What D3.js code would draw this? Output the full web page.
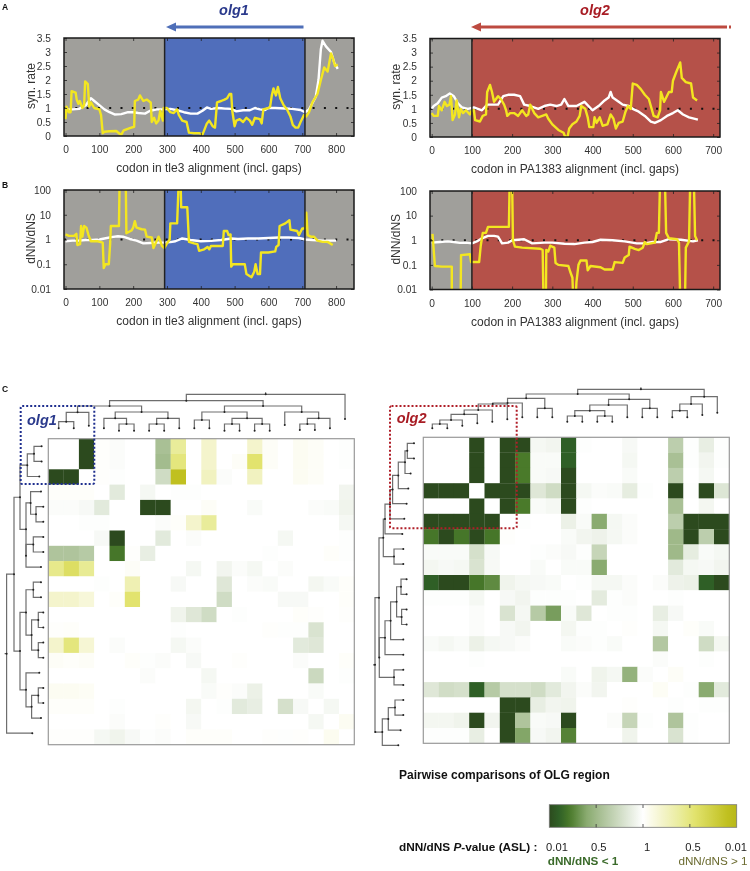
<!DOCTYPE html>
<html><head><meta charset="utf-8">
<script src="https://cdn.jsdelivr.net/npm/d3@7/dist/d3.min.js"></script>
<style>html,body{margin:0;background:#fff}svg{display:block;filter:blur(.35px)}text{font-family:"Liberation Sans",Arial,sans-serif}</style>
</head><body><svg id="c" width="750" height="871"></svg>
<script>
const ticksSyn=[0,0.5,1,1.5,2,2.5,3,3.5];
const ticksRatio=[0.01,0.1,1,10,100];
const ticksTle=[0,100,200,300,400,500,600,700,800];
const ticksPA=[0,100,200,300,400,500,600,700];
const a1Yellow=[[0,.6],[3,1.05],[10,.85],[15,.85],[18,1.6],[30,1.55],[33,1.3],[38,1.15],[42,1.25],[50,1],[55,1.1],[58,1.95],[66,1.85],[70,1.05],[75,1.2],[85,1],[100,.95],[105,.75],[110,.1],[115,.15],[130,.17],[150,.18],[160,.08],[165,.05],[172,.2],[190,.28],[203,.33],[205,1.25],[215,1.3],[220,1.45],[230,1.25],[240,1.3],[252,1.2],[255,.5],[262,.65],[268,.45],[275,.55],[280,.9],[288,.55],[290,1],[300,1],[310,.85],[320,.82],[330,.95],[335,.75],[345,.55],[358,.5],[365,.12],[380,.1],[395,.1],[405,.05],[410,.2],[418,.45],[425,.55],[435,.35],[442,.3],[448,1.2],[460,1.25],[470,1.3],[478,1.35],[485,1.5],[490,1.5],[493,.9],[500,.35],[505,.55],[515,.6],[525,.5],[535,.65],[545,.55],[552,.4],[560,.65],[575,.6],[580,.45],[585,.95],[600,1],[605,1.05],[610,1.45],[615,1.7],[622,1.45],[628,1.75],[635,1.35],[645,1.1],[655,.95],[665,.7],[672,.4],[680,.3],[688,.3],[695,.5],[705,.75],[712,.7],[720,.85],[730,1.2],[745,1.5],[755,2],[765,2.45],[775,2.3],[785,2.95],[790,2.8],[797,2.5],[805,2.55]];
const a1White=[[0,.95],[20,.95],[40,.97],[60,1.1],[75,1.35],[85,1.25],[100,1.1],[115,.95],[130,.85],[145,.77],[165,.78],[185,.85],[200,.85],[215,.82],[235,.8],[250,.9],[270,.95],[290,.95],[310,.97],[330,.92],[350,.85],[370,.8],[390,.8],[405,.9],[418,1.02],[430,.97],[450,1],[470,.98],[490,.97],[505,.88],[525,.92],[545,.92],[560,1],[575,.95],[590,.93],[600,1],[620,1],[650,.98],[670,.97],[695,.93],[708,.85],[720,.95],[740,1.4],[748,2],[755,3.1],[760,3.4],[770,3.2],[785,3],[795,2.6],[805,2.4]];
const a2Yellow=[[0,.85],[5,.75],[15,.75],[18,1.1],[25,.95],[32,1.25],[38,1.1],[44,1.15],[48,1.45],[52,.6],[58,.8],[62,1.3],[68,.7],[72,1],[78,.85],[85,.95],[95,.8],[100,.95],[105,.95],[108,.6],[120,.55],[127,.75],[135,.8],[138,1.6],[145,1.85],[150,1.6],[155,1.25],[165,1.45],[172,1.35],[180,1.15],[185,.95],[188,.75],[195,.85],[205,.85],[215,.75],[225,.95],[235,.75],[240,.8],[245,1.15],[255,.85],[265,.7],[285,.8],[290,.65],[300,.45],[315,.25],[328,.15],[332,0],[338,.02],[342,.3],[350,.45],[360,.55],[368,.75],[372,1.1],[382,1],[388,.7],[392,.35],[402,.35],[405,.7],[410,.5],[418,.7],[425,.4],[437,.45],[445,.8],[452,.65],[458,.3],[465,.5],[475,.55],[482,.9],[488,1.1],[495,1],[500,1.9],[510,1.85],[520,1.7],[530,1.5],[540,1.35],[547,1],[552,.75],[562,.7],[568,.95],[570,1.6],[578,1.25],[590,1.6],[597,1.6],[600,2],[608,2.3],[618,2.65],[622,2.1],[632,1.95],[645,1.9],[650,1.4],[660,1.3]];
const a2White=[[0,1],[5,1.1],[15,1.2],[25,1.4],[35,1.45],[45,1.55],[55,1.45],[65,1.2],[75,1.05],[90,1],[105,1.05],[125,.95],[138,1.15],[150,1.15],[165,1.15],[178,1.45],[190,1.5],[205,1.5],[220,1.45],[230,1.15],[245,1.1],[265,1],[280,1.1],[295,1.15],[310,1.1],[322,1.15],[330,1.35],[340,1.1],[360,1.1],[380,1.25],[400,.95],[415,1.1],[430,1.3],[440,1.4],[445,1.6],[450,1.4],[465,1.25],[475,1.15],[490,1.1],[500,1],[515,.9],[530,.75],[545,.55],[555,.5],[570,.6],[585,.75],[600,.85],[612,.95],[625,.8],[640,.7],[662,.62]];
const b1Yellow=[[0,1.6],[10,1.4],[25,1.4],[32,1.7],[35,.6],[43,.65],[46,3.5],[50,1.3],[55,3.5],[62,3],[68,1.5],[75,.85],[95,.85],[110,.75],[113,.07],[118,.1],[128,.1],[132,.7],[134,3.5],[158,3.5],[160,300],[178,300],[180,1.8],[195,2.3],[200,3],[205,5.5],[210,3],[225,2.6],[235,2.5],[240,1.3],[255,1.2],[260,.45],[268,.8],[275,1.3],[280,.9],[285,.55],[292,.45],[300,.7],[308,1],[310,4.5],[330,4.5],[335,300],[340,300],[342,20],[360,20],[365,.8],[380,.7],[390,.65],[395,.35],[410,.4],[420,.5],[425,.4],[430,.55],[465,.55],[468,2.2],[478,2.2],[482,1.5],[488,1.6],[490,.08],[495,.1],[530,.1],[535,.04],[550,.03],[558,.05],[562,.1],[568,.04],[575,.04],[578,.3],[600,.3],[620,.33],[623,.5],[630,.6],[633,3.5],[650,4.5],[662,6],[665,2.5],[685,2.2],[690,1.5],[700,2.8],[708,2.8],[712,12],[716,1.5],[725,1.3],[735,1.3],[745,.9],[760,.8],[775,.8],[790,.6]];
const b1White=[[0,.85],[20,.9],[40,.9],[60,.95],[80,.95],[100,1],[115,1.1],[135,1.25],[155,1.35],[170,1.3],[190,1.05],[210,.9],[230,.7],[250,.72],[270,.75],[290,.75],[310,.78],[325,.85],[345,1.1],[370,.95],[400,.85],[430,.88],[460,.95],[490,1.1],[510,1.05],[540,1.1],[570,1.1],[600,1.15],[630,1.2],[660,1.2],[690,1.15],[710,1],[730,.95],[760,.9],[800,.9]];
const b2Yellow=[[2,1.8],[5,.4],[8,.09],[25,.085],[50,.085],[50,.004],[72,.004],[73,.25],[95,.27],[98,.13],[118,.13],[122,.6],[127,2],[135,2],[140,3.5],[165,3.5],[192,3.5],[194,300],[200,300],[202,1],[207,.55],[225,.5],[270,.45],[276,.4],[278,.004],[284,.004],[285,.4],[290,.35],[295,.6],[305,.5],[308,.12],[315,.1],[340,.09],[345,.05],[350,.03],[352,.004],[358,.004],[360,.02],[365,.1],[370,.15],[385,.15],[388,.06],[395,.09],[420,.08],[430,.065],[450,.065],[455,.13],[475,.12],[480,.2],[490,.25],[492,.55],[505,.45],[515,.4],[525,.5],[530,.85],[535,.7],[545,.75],[555,.8],[560,2],[565,2],[568,300],[580,300],[583,2],[590,1.2],[610,1.1],[615,.8],[618,.004],[630,.004],[632,.5],[640,.9],[643,300],[652,300],[655,1.5],[660,1]];
const b2White=[[0,.8],[20,.85],[40,.9],[55,.85],[70,.78],[85,.8],[100,.75],[115,.95],[125,1.2],[140,1.5],[155,1.5],[165,1.4],[175,.75],[190,.8],[200,1],[215,1.05],[230,1.1],[250,.75],[280,.8],[300,.8],[330,.72],[355,.7],[380,.8],[400,.85],[420,1.05],[450,1],[480,.9],[510,.75],[530,.75],[550,.85],[570,.85],[590,1.1],[620,1.05],[650,.9],[662,1]];
const heatLeft=[
[0,0,-1,.01,-.02,0,0,-.45,.4,0,.2,0,0,.2,.03,0,.05,.03,0,-.01],
[0,0,-1,.01,-.02,0,0,-.48,.5,0,.2,0,.03,.55,.03,0,.05,.03,0,-.01],
[-1,-1,0,.01,-.01,0,0,-.25,.9,0,.25,-.02,0,.25,0,0,.05,.03,0,0],
[.02,.02,.02,0,-.15,0,-.05,0,-.01,-.01,0,0,0,0,0,0,0,0,0,-.07],
[-.02,-.02,-.04,-.15,0,0,-1,-1,0,0,.03,0,0,-.03,0,0,0,-.02,-.03,-.08],
[0,0,-.01,-.01,0,0,0,-.02,.02,.2,.4,0,0,0,0,0,0,0,0,-.05],
[0,0,0,-.04,-1,0,0,-.15,0,-.02,0,0,0,0,0,-.05,0,0,0,-.01],
[-.42,-.42,-.38,0,-.8,.01,-.12,0,0,0,0,0,0,0,-.01,0,0,0,.02,-.01],
[.45,.6,.42,0,0,.03,0,0,0,-.05,0,-.07,-.02,-.05,0,-.02,0,0,0,0],
[0,0,0,-.01,0,.3,0,0,-.04,0,0,-.17,0,-.02,-.03,0,0,-.06,-.03,.02],
[.2,.2,.15,0,.02,.55,0,0,0,0,0,-.25,0,0,0,-.04,-.04,0,0,.02],
[0,0,0,0,0,0,0,0,-.08,-.17,-.25,0,-.01,0,0,0,.02,.01,0,.01],
[.01,.02,0,0,0,0,0,0,-.01,0,0,0,0,0,.01,-.01,-.01,-.2,0,0],
[.2,.5,.17,0,-.02,0,0,0,-.05,-.02,0,0,0,0,0,0,-.15,-.17,0,0],
[.03,.02,.03,0,0,.02,-.01,-.02,0,-.04,0,0,.01,0,0,0,-.02,0,0,.02],
[0,0,0,0,0,0,-.02,0,0,0,-.05,0,0,0,0,0,0,-.27,0,-.01],
[.05,.05,.04,0,0,0,0,0,0,0,-.03,.01,-.02,-.1,0,0,0,-.03,0,0],
[.02,.02,.02,0,-.01,0,0,0,0,-.06,0,-.01,-.15,-.12,0,-.22,-.04,0,-.05,0],
[0,0,0,0,-.02,0,0,.01,0,-.04,0,0,0,0,0,0,0,-.05,0,.05],
[.01,.01,.01,-.05,-.08,-.04,-.01,-.02,0,.02,.02,.02,0,0,.01,-.01,.01,0,.06,0]];
const heatRight=[
[0,0,0,-1,0,-1,-1,-.05,-.07,-.9,-.01,0,0,-.04,0,0,-.35,-.01,-.12,-.01],
[0,0,0,-1,0,-1,-.78,-.03,-.03,-.9,0,0,0,-.05,0,0,-.45,-.01,-.07,-.01],
[0,0,0,-1,0,-1,-.78,-.03,-.04,-1,0,0,0,-.03,0,0,-.35,0,-.05,0],
[-1,-1,-1,0,-1,-1,-1,-.17,-.25,-1,-.05,-.02,-.03,-.13,-.01,0,-1,-.01,-1,-.18],
[0,0,0,-1,0,-1,-.78,-.03,-.05,-1,-.01,0,0,0,0,0,-.45,0,-.06,0],
[-1,-1,-1,-1,-1,0,-.01,0,0,-.1,-.03,-.6,-.05,-.02,0,0,-.35,-1,-1,-1],
[-.8,-1,-.8,-1,-.8,.01,0,0,0,-.03,-.07,-.09,-.05,-.02,0,0,-.5,-1,-.35,-1],
[-.03,-.03,-.03,-.22,-.04,0,0,-.01,-.02,-.04,-.01,-.3,0,0,0,0,-.5,-.13,-.03,-.05],
[-.06,-.04,-.05,-.2,-.04,0,0,-.03,0,-.03,-.03,-.6,0,0,0,0,-.15,-.05,-.04,-.07],
[-.9,-1,-1,-.8,-.72,-.08,-.05,-.04,-.03,0,-.01,-.05,-.05,-.02,0,-.02,-.09,-.1,-.9,-1],
[-.01,-.01,-.01,-.05,0,-.04,-.07,-.01,-.01,-.01,0,-.14,-.01,-.02,0,0,-.01,0,0,0],
[0,0,0,-.02,0,-.2,-.05,-.38,-.65,-.03,-.17,0,-.01,-.01,0,-.12,-.04,0,0,0],
[0,0,0,-.02,0,-.04,-.07,0,0,-.06,-.01,-.01,0,.01,0,-.05,0,.02,-.03,0],
[-.03,-.05,-.03,-.1,-.05,-.04,-.02,0,0,-.03,-.02,-.01,-.03,0,0,-.4,0,0,-.25,-.06],
[0,0,0,-.01,0,0,0,0,0,0,0,0,0,0,0,-.02,0,0,-.01,0],
[0,0,0,0,0,0,0,0,0,-.03,0,-.08,-.05,-.55,-.02,0,.03,0,0,0],
[-.17,-.24,-.22,-.9,-.38,-.22,-.22,-.25,-.15,-.07,-.02,-.07,0,0,0,.04,0,-.01,-.6,-.15],
[0,0,0,0,0,-1,-1,-.12,-.07,-.08,0,0,0,.01,0,0,-.01,0,-.01,-.01],
[-.06,-.06,-.08,-1,-.07,-1,-.42,-.03,-.04,-1,0,0,-.02,-.3,-.01,0,-.42,-.01,0,0],
[-.01,-.01,-.01,-.12,0,-1,-.62,-.04,-.07,-.75,0,0,0,-.08,0,0,-.2,-.01,0,0]];
// dendrograms: a number is a leaf's depth, an array is [node depth, child, child]
const treeTopLeft=[40.7,[34.3,[29,[22.7,[13.3,6.7,6.7],9.3],[23,[16.7,6.7,[11,4.3,4.3]],[16.7,[11,4.3,4.3],6.7]]],[29,[23,[15,6.7,6.7],[16.7,[11,4.3,4.3],[11,4.3,4.3]]],[23,10,[16.7,[11,5,5],6.7]]]],16];
const treeLeftLeft=[41.7,[34.3,[28.3,[21,[14.3,6.7,6.7],9],[22.3,[17.7,7.3,[12.3,5,5]],[22.3,[15,5,5],7.3]]],[28.3,[22.3,[15,7.3,7.3],[16.7,[10,5,5],[10,5,5]]],[22.3,9,[16.7,[10,5,5],7.3]]]],16];
const treeTopRight=[45.7,[41,[36.7,[32,[31,[25,[20.7,[15,[11,6.7,6.7],9.3],11.7],13.3],15.7],17.7],[26.7,17.7,17.7]],[35.7,[30,[24.3,[19,13.3,13.3],[19,13.3,13.3]],17.7],[26.7,17.7,17.7]]],[38.3,[31,[24.3,17.7,17.7],20],22.3]];
const treeLeftRight=[48.3,[44.3,[40,[38.3,[33.3,[30.7,[25,[18.3,[16,9.3,9.3],12.7],15],16.7],19],21],[29.3,20,20]],[44,[38.3,[32.7,[26.7,[22.3,16.7,16.7],[21.7,16.7,16.7]],20],20],[29.3,20,20]]],[48,[41,[35,[28.3,20,20],22.7],25]]];
const gradStops=[[-1,"#2c4a1e"],[-.9,"#2f5f26"],[-.78,"#4a7a2a"],[-.6,"#8aab70"],[-.45,"#a9c095"],[0,"#ffffff"],[.2,"#f4f4cc"],[.4,"#e9ec9a"],[.55,"#e2e36e"],[.9,"#c0c020"],[1,"#b8b818"]];
const legendLabels=["0.01","0.5","1","0.5","0.01"];

const svg=d3.select("#c");
const grey="#a09f9b",blue="#506ebb",red="#b55149";
const heatColor=d3.scaleLinear().domain(gradStops.map(d=>d[0])).range(gradStops.map(d=>d[1])).clamp(true);

function fmt(v){return String(v);}
function panel(o){
  const x=d3.scaleLinear().domain(o.xd).range([o.l,o.r]);
  const y=o.log?d3.scaleLog().domain([.01,100]).range([o.b,o.t]):d3.scaleLinear().domain([0,3.5]).range([o.b,o.t]);
  const id="clip"+o.id;
  svg.append("clipPath").attr("id",id).append("rect").attr("x",o.l).attr("y",o.t).attr("width",o.r-o.l).attr("height",o.b-o.t);
  const g=svg.append("g");
  o.bands.forEach(b=>{
    g.append("rect").attr("x",x(b[0])).attr("y",o.t).attr("width",x(b[1])-x(b[0])).attr("height",o.b-o.t).attr("fill",b[2]);
  });
  g.append("line").attr("x1",o.l).attr("x2",o.r).attr("y1",y(1)).attr("y2",y(1)).attr("stroke","#111").attr("stroke-width",2).attr("stroke-dasharray","2 9.3");
  const line=d3.line().x(d=>x(d[0])).y(d=>y(d[1]));
  const cg=g.append("g").attr("clip-path",`url(#${id})`);
  cg.append("path").attr("d",line(o.white)).attr("fill","none").attr("stroke","#fff").attr("stroke-width",2.4).attr("stroke-linejoin","round");
  cg.append("path").attr("d",line(o.yellow)).attr("fill","none").attr("stroke","#f3e620").attr("stroke-width",2.4).attr("stroke-linejoin","round");
  const axB=d3.axisBottom(x).tickValues(o.xt).tickSize(-3).tickPadding(10).tickFormat(fmt);
  const axT=d3.axisTop(x).tickValues(o.xt).tickSize(-3).tickFormat("");
  const axL=d3.axisLeft(y).tickValues(o.yt).tickSize(-3).tickPadding(13).tickFormat(fmt);
  const axR=d3.axisRight(y).tickValues(o.yt).tickSize(-3).tickFormat("");
  [[axB,`0,${o.b}`],[axT,`0,${o.t}`],[axL,`${o.l},0`],[axR,`${o.r},0`]].forEach(a=>{
    const ag=g.append("g").attr("transform",`translate(${a[1]})`).call(a[0]);
    ag.select(".domain").remove();
    ag.selectAll("line").attr("stroke","#222").attr("stroke-width",.8);
    ag.selectAll("text").attr("font-size",10.2).attr("fill","#333").attr("font-family",'"Liberation Sans",Arial,sans-serif');
  });
  o.bounds.forEach(v=>{
    g.append("line").attr("x1",x(v)).attr("x2",x(v)).attr("y1",o.t).attr("y2",o.b).attr("stroke","#222").attr("stroke-width",1.5);
  });
  g.append("rect").attr("x",o.l).attr("y",o.t).attr("width",o.r-o.l).attr("height",o.b-o.t).attr("fill","none").attr("stroke","#1a1a1a").attr("stroke-width",1.5);
  g.append("text").attr("x",(o.l+o.r)/2).attr("y",o.b+36).attr("text-anchor","middle").attr("font-size",12).attr("fill","#333").text(o.xl);
  g.append("text").attr("transform",`translate(${o.yx},${(o.t+o.b)/2-1}) rotate(-90)`).attr("text-anchor","middle").attr("font-size",12).attr("fill","#333").text(o.yl);
}
const xl1="codon in tle3 alignment (incl. gaps)",xl2="codon in PA1383 alignment (incl. gaps)";
const d1=[-4.5,853],d2=[-4.2,717];
panel({id:"a1",l:64,r:354,t:38,b:136,xd:d1,xt:ticksTle,yt:ticksSyn,bands:[[-4.5,293,grey],[293,708,blue],[708,853,grey]],bounds:[293,708],white:a1White,yellow:a1Yellow,xl:xl1,yl:"syn. rate",yx:35});
panel({id:"a2",l:430,r:720,t:38.5,b:137,xd:d2,xt:ticksPA,yt:ticksSyn,bands:[[-4.2,100,grey],[100,717,red]],bounds:[100],white:a2White,yellow:a2Yellow,xl:xl2,yl:"syn. rate",yx:400});
panel({id:"b1",l:64,r:354,t:190,b:289,xd:d1,xt:ticksTle,yt:ticksRatio,log:true,bands:[[-4.5,293,grey],[293,708,blue],[708,853,grey]],bounds:[293,708],white:b1White,yellow:b1Yellow,xl:xl1,yl:"dNN/dNS",yx:35});
panel({id:"b2",l:430,r:720,t:191,b:289.5,xd:d2,xt:ticksPA,yt:ticksRatio,log:true,bands:[[-4.2,100,grey],[100,717,red]],bounds:[100],white:b2White,yellow:b2Yellow,xl:xl2,yl:"dNN/dNS",yx:400});

[["A",2,10],["B",2,188],["C",2,392]].forEach(t=>svg.append("text").attr("x",t[1]).attr("y",t[2]).attr("font-size",8.5).attr("font-weight","bold").attr("fill","#111").text(t[0]));

function arrow(x0,x1,y,c,h){
  svg.append("line").attr("x1",x0).attr("x2",x1+6).attr("y1",y).attr("y2",y).attr("stroke",c).attr("stroke-width",3.2);
  svg.append("path").attr("d",d3.line()([[x1,y],[x1+10,y-h],[x1+10,y+h]])+"Z").attr("fill",c);
}
arrow(303.5,166,27,"#4f6fb8",4.5);
arrow(722,471,27,"#bd4a40",4.5);
svg.append("line").attr("x1",722).attr("x2",733).attr("y1",27).attr("y2",27).attr("stroke","#bd4a40").attr("stroke-width",3.2).attr("stroke-dasharray","5 2 2 2");
const lab=(s,x,y,c,a)=>svg.append("text").attr("x",x).attr("y",y).attr("font-size",14.5).attr("font-weight","bold").attr("font-style","italic").attr("fill",c).attr("text-anchor",a||"start").text(s);
lab("olg1",234,14.5,"#2b3a8c","middle");
lab("olg2",595,14.5,"#a81c24","middle");

function heat(data,l,t,w){
  const bx=d3.scaleBand().domain(d3.range(20)).range([l,l+w]);
  const by=d3.scaleBand().domain(d3.range(20)).range([t,t+w]);
  const g=svg.append("g");
  data.forEach((r,i)=>r.forEach((v,j)=>{
    g.append("rect").attr("x",bx(j)).attr("y",by(i)).attr("width",bx.bandwidth()+.2).attr("height",by.bandwidth()+.2).attr("fill",heatColor(v));
  }));
  g.append("rect").attr("x",l).attr("y",t).attr("width",w).attr("height",w).attr("fill","none").attr("stroke","#9a9a9a").attr("stroke-width",1.2);
}
heat(heatLeft,48.3,438.7,306);
heat(heatRight,423.3,437.3,306);

function dendro(tree,leafStart,leafStep,base,horizontal){
  let n=0;
  const pos=d3.scaleLinear().domain([0,1]).range([leafStart,leafStart+leafStep]);
  const depth=d3.scaleLinear().domain([0,1]).range([base,base-1]);
  const g=svg.append("g");
  const P=(a,d)=>horizontal?[depth(d),a]:[a,depth(d)];
  const dots=[];
  function walk(t){
    if(typeof t==="number"){const a=pos(n++);dots.push(P(a,t));return {a,d:t};}
    const kids=t.slice(1).map(walk);
    const a=(kids[0].a+kids[kids.length-1].a)/2;
    kids.forEach(k=>{
      g.append("path").attr("d",d3.line()([P(k.a,k.d),P(k.a,t[0]),P(a,t[0])])).attr("fill","none").attr("stroke","#6e6e6e").attr("stroke-width",1.2);
    });
    dots.push(P(a,t[0]));
    return {a,d:t[0]};
  }
  const root=walk(tree);
  g.append("path").attr("d",d3.line()([P(root.a,root.d),P(root.a,root.d+2)])).attr("stroke","#444");
  g.selectAll("circle").data(dots).join("circle").attr("cx",d=>d[0]).attr("cy",d=>d[1]).attr("r",1).attr("fill","#222");
}
dendro(treeTopLeft,58.7,15.07,435,false);
dendro(treeLeftLeft,446.3,15.1,48.3,true);
dendro(treeTopRight,432.3,15,435,false);
dendro(treeLeftRight,443.3,15.1,423.3,true);

function box(x,y,w,h,c){svg.append("rect").attr("x",x).attr("y",y).attr("width",w).attr("height",h).attr("rx",1.5).attr("fill","none").attr("stroke",c).attr("stroke-width",2).attr("stroke-dasharray","2 2");}
box(20.7,406,73.6,78,"#1f2f8f");
box(390,406,126.7,122.3,"#b01e28");
lab("olg1",27,425,"#2b3a8c");
lab("olg2",396.7,423,"#a81c24");

svg.append("text").attr("x",399).attr("y",778.5).attr("font-size",12).attr("font-weight","bold").attr("fill","#111").text("Pairwise comparisons of OLG region");
const grad=svg.append("defs").append("linearGradient").attr("id","lg");
const lx=d3.scaleLinear().domain([-1,1]).range([549.3,736.7]);
d3.range(-1,1.001,.05).forEach(v=>grad.append("stop").attr("offset",(v+1)/2).attr("stop-color",heatColor(v)));
svg.append("rect").attr("x",lx(-1)).attr("y",804.7).attr("width",lx(1)-lx(-1)).attr("height",22.6).attr("fill","url(#lg)").attr("stroke","#777").attr("stroke-width",.8);
[-.5,0,.5].forEach(v=>{
  [[804.7,808],[824,827.3]].forEach(s=>svg.append("line").attr("x1",lx(v)).attr("x2",lx(v)).attr("y1",s[0]).attr("y2",s[1]).attr("stroke","#333").attr("stroke-width",.8));
});
const lbl=svg.append("text").attr("x",399).attr("y",850.5).attr("font-size",11.8).attr("font-weight","bold").attr("fill","#111");
lbl.append("tspan").text("dNN/dNS ");
lbl.append("tspan").attr("font-style","italic").text("P");
lbl.append("tspan").text("-value (ASL) :");
[557,598.7,647,693,736].forEach((x,i)=>svg.append("text").attr("x",x).attr("y",850.5).attr("text-anchor","middle").attr("font-size",11.2).attr("fill","#222").text(legendLabels[i]));
svg.append("text").attr("x",583).attr("y",865).attr("text-anchor","middle").attr("font-size",11.7).attr("font-weight","bold").attr("fill","#3a6a2a").text("dNN/dNS < 1");
svg.append("text").attr("x",713).attr("y",865).attr("text-anchor","middle").attr("font-size",11.7).attr("fill","#6b6b30").text("dNN/dNS > 1");
</script></body></html>
